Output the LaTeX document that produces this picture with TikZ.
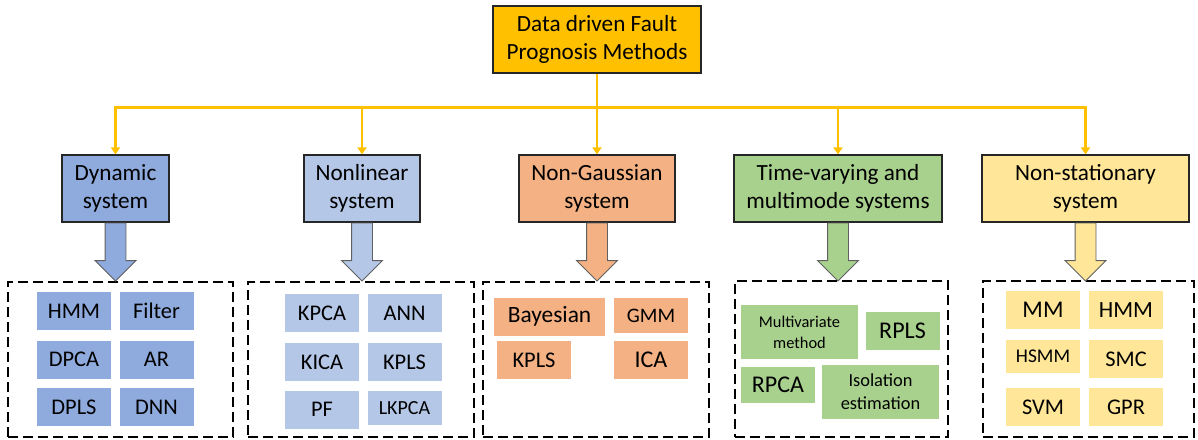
\documentclass[tikz,border=0pt]{standalone}
\usepackage{fontspec}
\setmainfont{Carlito}
\usetikzlibrary{shapes.arrows,arrows.meta}

\definecolor{rootfill}{HTML}{FFC000}
\definecolor{dynfill}{HTML}{8FAADC}
\definecolor{nonlinfill}{HTML}{B4C7E7}
\definecolor{gaussfill}{HTML}{F4B183}
\definecolor{timefill}{HTML}{A9D18E}
\definecolor{statfill}{HTML}{FFE699}

\begin{document}
\begin{tikzpicture}[
    x=0.5pt, y=-0.5pt,
    cat/.style={draw=black!85, line width=0.6pt, minimum height=33.5pt, inner sep=2pt, align=center, font=\fontsize{11.6}{14}\selectfont},
    method/.style={minimum width=37pt, minimum height=19pt, inner sep=1pt, align=center, font=\fontsize{11.2}{13}\selectfont},
    group/.style={draw, line width=0.8pt, dash pattern=on 5pt off 2.5pt, minimum width=113pt, minimum height=77.5pt},
    feed/.style={draw=rootfill, line width=1.3pt},
    feedarrow/.style={feed, -{Triangle[width=4.5pt,length=3.5pt]}},
    blockarr/.style={single arrow, draw=gray!75!black, line width=0.4pt, rotate=-90, anchor=tail, minimum height=29pt, minimum width=20pt, inner sep=5pt, single arrow head extend=5pt}
]
    \useasboundingbox (0,0) rectangle (1198,439);

    % root and the five system types
    \node[cat, fill=rootfill, minimum width=104pt] (root) at (597,39.5) {Data driven Fault\\Prognosis Methods};
    \node[cat, fill=dynfill, minimum width=53.5pt] (dyn) at (115.5,188.5) {Dynamic\\system};
    \node[cat, fill=nonlinfill, minimum width=58pt] (nonlin) at (362,188.5) {Nonlinear\\system};
    \node[cat, fill=gaussfill, minimum width=78pt] (gauss) at (597,188.5) {Non-Gaussian\\system};
    \node[cat, fill=timefill, minimum width=104pt] (timevar) at (838,188.5) {Time-varying and\\multimode systems};
    \node[cat, fill=statfill, minimum width=103.5pt] (nonstat) at (1085.5,188.5) {Non-stationary\\system};

    \coordinate (hub) at (597,107.5);
    \draw[feed] (root.south) -- (hub);
    \foreach \c in {dyn,nonlin,gauss,timevar,nonstat}
        \draw[feedarrow] (hub) -| (\c.north);

    % method groups
    \node[group, minimum width=112.5pt] (gdyn) at (120.5,359.5) {};
    \node[group] (gnonlin) at (361,359.5) {};
    \node[group] (ggauss) at (596,359.5) {};
    \node[group, minimum width=106.5pt, minimum height=78pt] (gtime) at (841.5,359) {};
    \node[group, minimum width=105.5pt, minimum height=78pt] (gstat) at (1088.5,359) {};

    \node[blockarr, fill=dynfill] (dynarr) at (dyn.south) {};
    \node[blockarr, fill=nonlinfill] (nonlinarr) at (nonlin.south) {};
    \node[blockarr, fill=gaussfill] (gaussarr) at (gauss.south) {};
    \node[blockarr, fill=timefill] (timearr) at (timevar.south) {};
    \node[blockarr, fill=statfill] (statarr) at (nonstat.south) {};

    % dynamic
    \node[method, fill=dynfill] (dhmm) at (74,311) {HMM};
    \node[method, fill=dynfill] (filter) at (156.5,311) {Filter};
    \node[method, fill=dynfill] (dpca) at (74,359.5) {DPCA};
    \node[method, fill=dynfill] (ar) at (156.5,359.5) {AR};
    \node[method, fill=dynfill] (dpls) at (74,407) {DPLS};
    \node[method, fill=dynfill] (dnn) at (156.5,407) {DNN};

    % nonlinear
    \node[method, fill=nonlinfill] (kpca) at (322,313) {KPCA};
    \node[method, fill=nonlinfill] (ann) at (404.5,313) {ANN};
    \node[method, fill=nonlinfill] (kica) at (322,362) {KICA};
    \node[method, fill=nonlinfill] (kplsA) at (404.5,362) {KPLS};
    \node[method, fill=nonlinfill] (pf) at (322,409.5) {PF};
    \node[method, fill=nonlinfill, minimum height=17pt, font=\fontsize{10}{12}\selectfont] (lkpca) at (404.5,408) {LKPCA};

    % non-Gaussian
    \node[method, fill=gaussfill, minimum width=55.5pt, font=\fontsize{11.7}{13}\selectfont] (bayes) at (549.5,316.5) {Bayesian};
    \node[method, fill=gaussfill, minimum height=17.5pt, font=\fontsize{10.3}{12}\selectfont] (gmm) at (651,315.5) {GMM};
    \node[method, fill=gaussfill] (kplsB) at (534,360) {KPLS};
    \node[method, fill=gaussfill, font=\fontsize{12}{14}\selectfont] (ica) at (651,359.5) {ICA};

    % time-varying and multimode
    \node[method, fill=timefill, minimum width=58.5pt, minimum height=27pt, font=\fontsize{8.2}{10.5}\selectfont] (multivar) at (799.5,332) {Multivariate\\method};
    \node[method, fill=timefill, font=\fontsize{12}{14}\selectfont] (rpls) at (902.5,330.5) {RPLS};
    \node[method, fill=timefill, minimum height=18pt, font=\fontsize{12}{14}\selectfont] (rpca) at (778,385) {RPCA};
    \node[method, fill=timefill, minimum width=58.5pt, minimum height=27pt, font=\fontsize{9.2}{11.5}\selectfont] (isolation) at (880.5,392) {Isolation\\estimation};

    % non-stationary
    \node[method, fill=statfill, font=\fontsize{12}{14}\selectfont] (mm) at (1043,310) {MM};
    \node[method, fill=statfill, font=\fontsize{11.6}{14}\selectfont] (hmmB) at (1126,310) {HMM};
    \node[method, fill=statfill, minimum height=16.5pt, font=\fontsize{9.7}{11}\selectfont] (hsmm) at (1043,356.5) {HSMM};
    \node[method, fill=statfill] (smc) at (1126,359) {SMC};
    \node[method, fill=statfill] (svm) at (1043,407) {SVM};
    \node[method, fill=statfill] (gpr) at (1126,407) {GPR};
\end{tikzpicture}
\end{document}
